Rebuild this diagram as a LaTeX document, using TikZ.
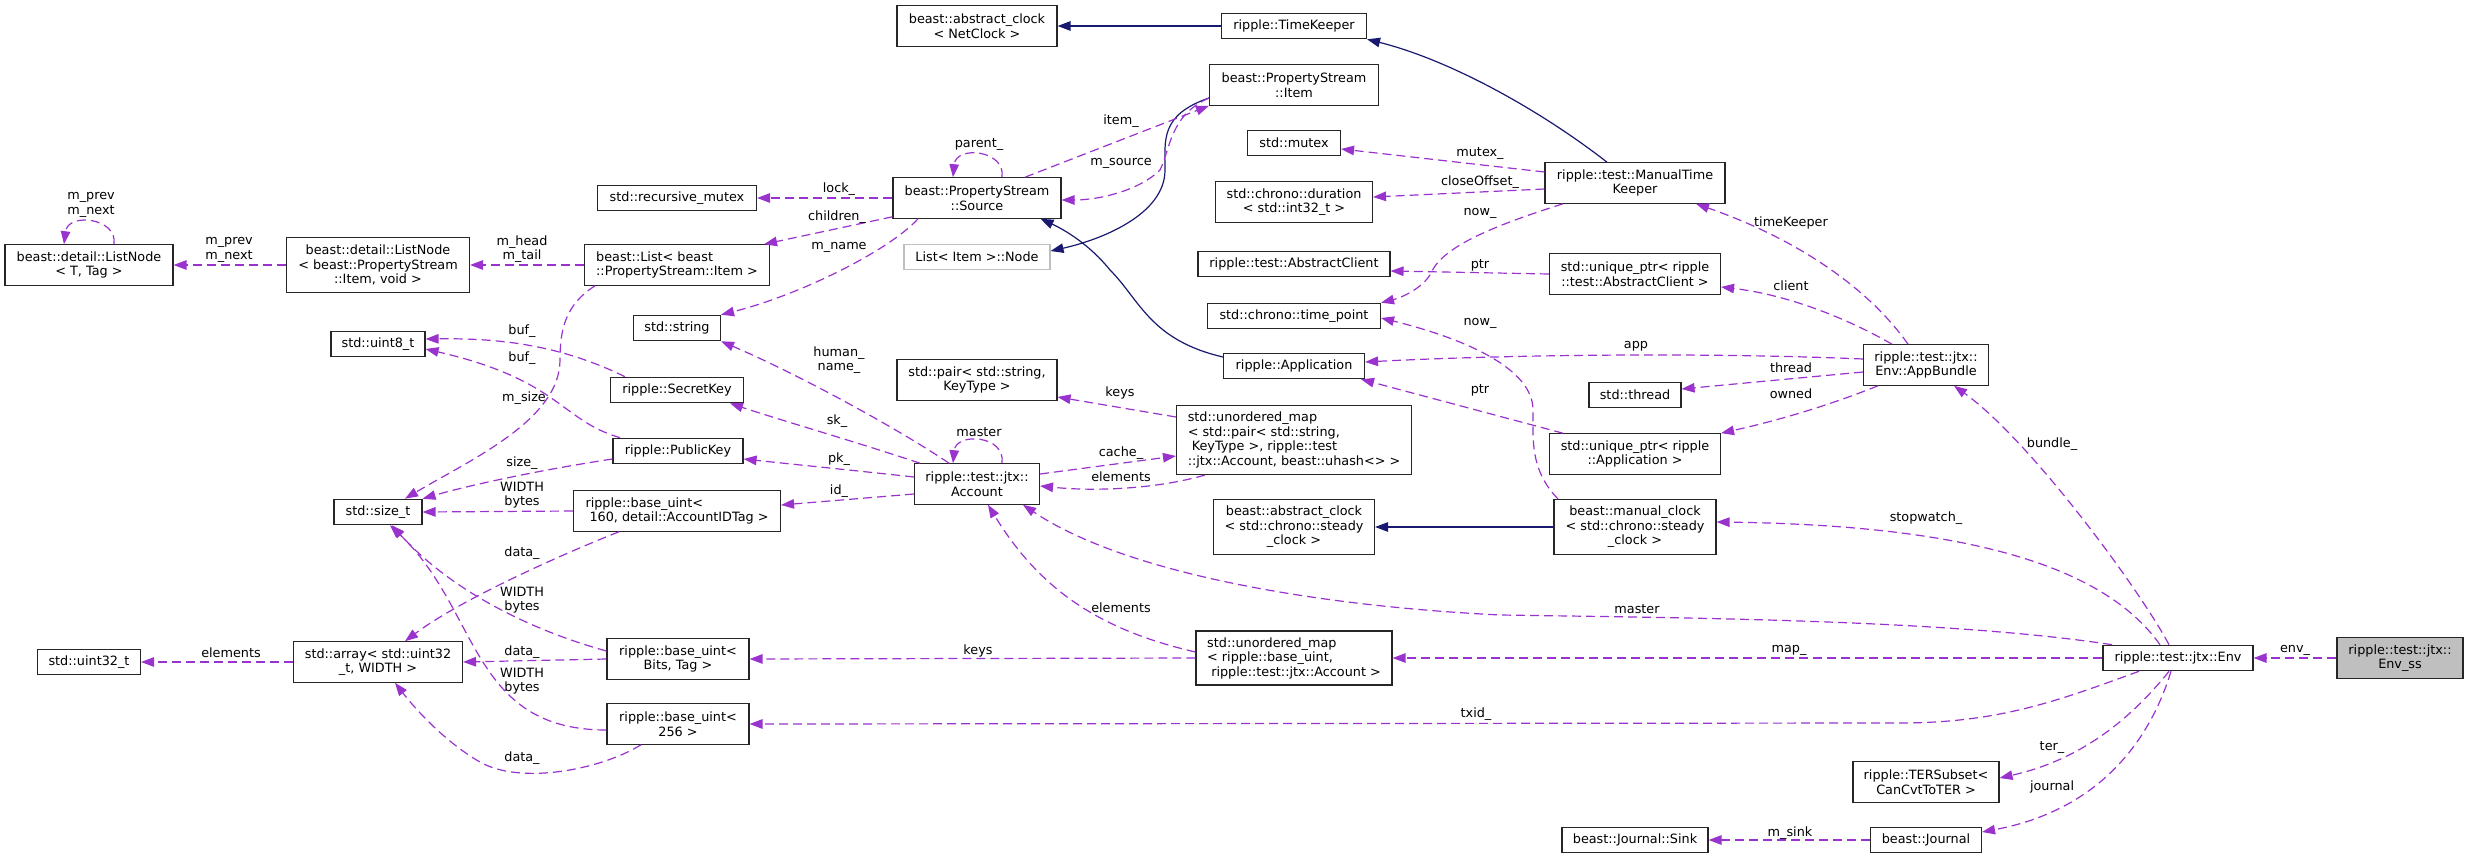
\documentclass[tikz,border=0pt]{standalone}
\usepackage{fontspec}
\setmainfont{DejaVu Sans}
\usetikzlibrary{arrows.meta}
\definecolor{usecol}{HTML}{9A32CD}
\definecolor{inhcol}{HTML}{191970}
\begin{document}
\begin{tikzpicture}[x=1pt,y=-1pt,
        every node/.style={font=\fontsize{12.8}{14.5}\selectfont},
        cls/.style={draw=black!85,line width=1.1pt,fill=white,inner sep=0pt,align=center,minimum height=40.5},
        usage/.style={draw=usecol,line width=1.2pt,dash pattern=on 9pt off 5pt,-{Triangle[length=13pt,width=9.5pt]}},
        inh/.style={draw=inhcol,line width=1.2pt,-{Triangle[length=13pt,width=9.5pt]}},
        lbl/.style={inner sep=0pt,align=center}]
        \useasboundingbox (0,0) rectangle (2468,859);

        % one line classes
        \foreach \n/\x/\y/\w/\t in {uint8/378/344/94/{std::uint8\_t}, sizet/378/512/88/{std::size\_t},
                uint32/89/662/103/{std::uint32\_t}, rmutex/677/198/159/{std::recursive\_mutex},
                string/677/328/87/{std::string}, seckey/677/390/133/{ripple::SecretKey},
                pubkey/678/451/130/{ripple::PublicKey}, timekeeper/1294/26/145/{ripple::TimeKeeper},
                mutex/1294/143/93/{std::mutex}, absclient/1294/264/192/{ripple::test::AbstractClient},
                timepoint/1294/316/173/{std::chrono::time\_point}, app/1294/366/141/{ripple::Application},
                thread/1635/395/92/{std::thread}, sink/1635/840/146/{beast::Journal::Sink},
                journal/1926/840/111/{beast::Journal}, env/2178/658/150/{ripple::test::jtx::Env}}
                {\node[cls,minimum width=\w,minimum height=25.5] (\n) at (\x,\y) {\t};}
        % two line classes
        \foreach \n/\x/\y/\w/\t in {arr/378/662/169/{std::array< std::uint32\\\_t, WIDTH >},
                absNet/977/26/160/{beast::abstract\_clock\\< NetClock >}, source/977/198/168/{beast::PropertyStream\\::Source},
                pair/977/380/160/{std::pair< std::string,\\KeyType >}, account/977/484/125/{ripple::test::jtx::\\Account},
                buBits/678/659/142/{ripple::base\_uint<\\Bits, Tag >}, bu256/678/724/142/{ripple::base\_uint<\\256 >},
                item/1294/85/169/{beast::PropertyStream\\::Item}, duration/1294/202/157/{std::chrono::duration\\< std::int32\_t >},
                manualTK/1635/183/180/{ripple::test::ManualTime\\Keeper}, upClient/1635/274/171/{std::unique\_ptr< ripple\\::test::AbstractClient >},
                upApp/1635/454/171/{std::unique\_ptr< ripple\\::Application >}, bundle/1926/365/125/{ripple::test::jtx::\\Env::AppBundle},
                ter/1926/782/146/{ripple::TERSubset<\\CanCvtToTER >}, listT/89/265/168/{beast::detail::ListNode\\< T, Tag >}}
                {\node[cls,minimum width=\w] (\n) at (\x,\y) {\t};}
        \node[cls,minimum width=183,minimum height=55] (listItem) at (378,265) {beast::detail::ListNode\\< beast::PropertyStream\\::Item, void >};
        \node[cls,align=left,minimum width=185] (blist) at (677,265) {beast::List< beast\\::PropertyStream::Item >};
        \node[cls,draw=black!25,minimum width=146,minimum height=25.5] (lnode) at (977,257) {List< Item >::Node};
        \node[cls,align=left,minimum width=207] (bu160) at (677,511) {ripple::base\_uint<\\\ 160, detail::AccountIDTag >};
        \node[cls,align=left,minimum width=235,minimum height=69] (umapPair) at (1294,440) {std::unordered\_map\\< std::pair< std::string,\\\ KeyType >, ripple::test\\::jtx::Account, beast::uhash<> >};
        \node[cls,minimum width=161,minimum height=55] (absSteady) at (1294,527) {beast::abstract\_clock\\< std::chrono::steady\\\_clock >};
        \node[cls,align=left,minimum width=196,minimum height=54] (umapBase) at (1294,658) {std::unordered\_map\\< ripple::base\_uint,\\\ ripple::test::jtx::Account >};
        \node[cls,minimum width=162,minimum height=55] (manualClock) at (1635,527) {beast::manual\_clock\\< std::chrono::steady\\\_clock >};
        \node[cls,fill=black!25,minimum width=126] (envss) at (2400,658) {ripple::test::jtx::\\Env\_ss};

        % inheritance
        \draw[inh] (timekeeper.west) -- (absNet.east);
        \draw[inh] ([shift={(-28,0)}]manualTK.north) .. controls (1540,110) and (1450,60) .. (timekeeper.south east);
        \draw[inh] ([shift={(0,13)}]item.west) .. controls (1160,115) and (1165,140) .. (1165,170) .. controls (1165,215) and (1100,240) .. ([shift={(0,-6)}]lnode.east);
        \draw[inh] ([shift={(0,-9)}]app.west) .. controls (1150,340) and (1140,300) .. (1110,270) .. controls (1090,245) and (1065,230) .. ([shift={(-21,0)}]source.south east);
        \draw[inh] (manualClock.west) -- (absSteady.east);

        % members, left part
        \draw[usage] ([shift={(25,0)}]listT.north) .. controls (118,218) and (68,212) .. ([shift={(-25,0)}]listT.north) node[lbl] at (91,205) {m\_prev\\m\_next};
        \draw[usage] (listItem.west) -- (listT.east) node[lbl] at (229,250) {m\_prev\\m\_next};
        \draw[usage] (blist.west) -- (listItem.east) node[lbl] at (522,249) {m\_head\\m\_tail};
        \draw[usage] ([shift={(-82,0)}]blist.south) .. controls (565,305) and (560,330) .. (560,360) .. controls (560,420) and (470,460) .. ([shift={(27,0)}]sizet.north) node[lbl] at (524,398) {m\_size};
        \draw[usage] ([shift={(-52,0)}]seckey.north) .. controls (560,345) and (500,338) .. ([shift={(0,-5)}]uint8.east) node[lbl] at (522,331) {buf\_};
        \draw[usage] ([shift={(-58,0)}]pubkey.north) .. controls (560,420) and (560,380) .. ([shift={(0,5)}]uint8.east) node[lbl] at (522,358) {buf\_};
        \draw[usage] ([shift={(0,8)}]pubkey.west) .. controls (540,470) and (470,485) .. (sizet.north east) node[lbl] at (522,463) {size\_};
        \draw[usage] (bu160.west) -- (sizet.east) node[lbl] at (522,495) {WIDTH\\bytes};
        \draw[usage] ([shift={(-58,0)}]bu160.south) .. controls (560,555) and (460,600) .. ([shift={(27,0)}]arr.north) node[lbl] at (522,553) {data\_};
        \draw[usage] ([shift={(0,-8)}]buBits.west) .. controls (530,630) and (450,590) .. ([shift={(14,0)}]sizet.south) node[lbl] at (522,600) {WIDTH\\bytes};
        \draw[usage] (buBits.west) -- (arr.east) node[lbl] at (522,652) {data\_};
        \draw[usage] ([shift={(0,6)}]bu256.west) .. controls (470,730) and (480,610) .. ([shift={(12,0)}]sizet.south) node[lbl] at (522,681) {WIDTH\\bytes};
        \draw[usage] ([shift={(-37,0)}]bu256.south) .. controls (600,770) and (520,785) .. (480,762) .. controls (450,745) and (420,715) .. ([shift={(17,0)}]arr.south) node[lbl] at (522,758) {data\_};
        \draw[usage] (arr.west) -- (uint32.east) node[lbl] at (231,653) {elements};

        % members, middle part
        \draw[usage] (source.west) -- (rmutex.east) node[lbl] at (839,189) {lock\_};
        \draw[usage] ([shift={(0,-2)}]source.south west) -- ([shift={(-6,0)}]blist.north east) node[lbl] at (837,217) {children\_};
        \draw[usage] ([shift={(-59,0)}]source.south) .. controls (890,250) and (800,295) .. (string.north east) node[lbl] at (839,247) {m\_name};
        \draw[usage] ([shift={(25,0)}]source.north) .. controls (1006,150) and (956,145) .. ([shift={(-24,0)}]source.north) node[lbl] at (979,145) {parent\_};
        \draw[usage] ([shift={(48,0)}]source.north) -- (item.south west) node[lbl] at (1121,121) {item\_};
        \draw[usage] ([shift={(0,13)}]item.west) .. controls (1170,115) and (1170,150) .. (1160,170) .. controls (1140,190) and (1100,200) .. ([shift={(0,2)}]source.east) node[lbl] at (1121,163) {m\_source};
        \draw[usage] ([shift={(25,0)}]account.north) .. controls (1006,435) and (956,432) .. ([shift={(-24,0)}]account.north) node[lbl] at (979,432) {master};
        \draw[usage] ([shift={(-28,0)}]account.north) .. controls (900,430) and (800,375) .. (string.south east) node[lbl] at (839,360) {human\_\\name\_};
        \draw[usage] ([shift={(-57,0)}]account.north) .. controls (850,440) and (780,420) .. ([shift={(53,0)}]seckey.south) node[lbl] at (837,421) {sk\_};
        \draw[usage] ([shift={(0,-7)}]account.west) .. controls (850,470) and (800,465) .. ([shift={(0,8)}]pubkey.east) node[lbl] at (839,459) {pk\_};
        \draw[usage] ([shift={(0,10)}]account.west) -- ([shift={(0,-6)}]bu160.east) node[lbl] at (839,491) {id\_};
        \draw[usage] ([shift={(0,-10)}]account.east) -- ([shift={(0,16)}]umapPair.west) node[lbl] at (1121,453) {cache\_};
        \draw[usage] ([shift={(-89,0)}]umapPair.south) .. controls (1160,488) and (1100,492) .. ([shift={(0,2)}]account.east) node[lbl] at (1121,477) {elements};
        \draw[usage] ([shift={(0,-23)}]umapPair.west) -- ([shift={(0,17)}]pair.east) node[lbl] at (1120,393) {keys};
        \draw[usage] ([shift={(0,-6)}]umapBase.west) .. controls (1100,630) and (1040,590) .. ([shift={(11,0)}]account.south) node[lbl] at (1121,608) {elements};
        \draw[usage] (umapBase.west) -- (buBits.east) node[lbl] at (978,651) {keys};

        % members, right part
        \draw[usage] ([shift={(0,-11)}]manualTK.west) -- ([shift={(0,6)}]mutex.east) node[lbl] at (1480,154) {mutex\_};
        \draw[usage] ([shift={(0,6)}]manualTK.west) -- ([shift={(0,-5)}]duration.east) node[lbl] at (1480,182) {closeOffset\_};
        \draw[usage] ([shift={(-72,0)}]manualTK.south) .. controls (1480,230) and (1440,250) .. (1430,275) .. controls (1420,290) and (1400,298) .. (timepoint.north east) node[lbl] at (1480,213) {now\_};
        \draw[usage] (upClient.west) -- ([shift={(0,7)}]absclient.east) node[lbl] at (1480,265) {ptr};
        \draw[usage] ([shift={(-77,0)}]manualClock.north) .. controls (1530,470) and (1533,440) .. (1533,410) .. controls (1533,370) and (1470,340) .. ([shift={(0,2)}]timepoint.east) node[lbl] at (1480,323) {now\_};
        \draw[usage] ([shift={(-72,0)}]upApp.north) -- ([shift={(-4,0)}]app.south east) node[lbl] at (1480,390) {ptr};
        \draw[usage] ([shift={(-18,0)}]bundle.north) .. controls (1870,290) and (1800,240) .. ([shift={(61,0)}]manualTK.south) node[lbl] at (1791,223) {timeKeeper};
        \draw[usage] ([shift={(-34,0)}]bundle.north) .. controls (1850,320) and (1790,295) .. ([shift={(0,13)}]upClient.east) node[lbl] at (1791,286) {client};
        \draw[usage] ([shift={(0,-6)}]bundle.west) .. controls (1700,352) and (1500,355) .. ([shift={(0,-4)}]app.east) node[lbl] at (1636,346) {app};
        \draw[usage] ([shift={(0,7)}]bundle.west) -- ([shift={(0,-6)}]thread.east) node[lbl] at (1791,368) {thread};
        \draw[usage] ([shift={(-48,0)}]bundle.south) .. controls (1830,405) and (1780,420) .. (upApp.north east) node[lbl] at (1791,394) {owned};
        \draw[usage] ([shift={(-66,0)}]env.north) .. controls (1950,620) and (1700,618) .. (1500,615) .. controls (1300,605) and (1120,570) .. ([shift={(46,0)}]account.south) node[lbl] at (1637,609) {master};
        \draw[usage] ([shift={(-18,0)}]env.north) .. controls (2100,560) and (1950,525) .. ([shift={(0,-5)}]manualClock.east) node[lbl] at (1926,518) {stopwatch\_};
        \draw[usage] ([shift={(-9,0)}]env.north) .. controls (2140,590) and (2030,440) .. ([shift={(28,0)}]bundle.south) node[lbl] at (2052,444) {bundle\_};
        \draw[usage] (env.west) -- (umapBase.east) node[lbl] at (1789,650) {map\_};
        \draw[usage] ([shift={(-39,0)}]env.south) .. controls (2060,700) and (2000,723) .. (1900,723) -- (bu256.east) node[lbl] at (1476,714) {txid\_};
        \draw[usage] ([shift={(-9,0)}]env.south) .. controls (2130,720) and (2080,760) .. ([shift={(0,-4)}]ter.east) node[lbl] at (2052,748) {ter\_};
        \draw[usage] ([shift={(-7,0)}]env.south) .. controls (2150,740) and (2100,810) .. ([shift={(0,-8)}]journal.east) node[lbl] at (2052,787) {journal};
        \draw[usage] (journal.west) -- (sink.east) node[lbl] at (1790,833) {m\_sink};
        \draw[usage] (envss.west) -- (env.east) node[lbl] at (2295,650) {env\_};
\end{tikzpicture}
\end{document}
